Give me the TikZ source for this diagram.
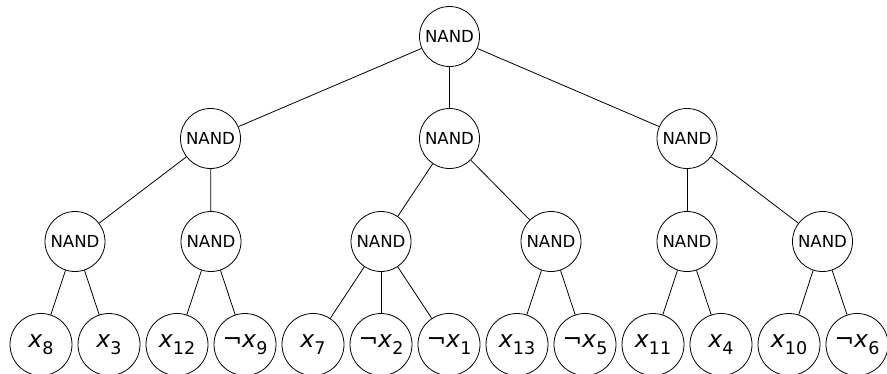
\documentclass[tikz,border=0pt]{standalone}
\usepackage{fontspec}
\setmainfont{DejaVu Sans}
\newcommand\litx[1]{{\itshape x}\kern0.2pt\raisebox{-6.5pt}{\fontsize{17.5pt}{17.5pt}\selectfont #1}}
\newcommand\nlitx[1]{¬\litx{#1}}
\tikzset{
  gate/.style={circle, draw, line width=0.8pt, minimum size=60pt, inner sep=0pt,
    font=\fontsize{16.6pt}{16.6pt}\selectfont},
  leaf/.style={circle, draw, line width=0.8pt, minimum size=62pt, inner sep=0pt,
    font=\fontsize{23.5pt}{23.5pt}\selectfont},
  edge/.style={line width=0.8pt}
}
\begin{document}
\begin{tikzpicture}[x=1pt,y=-1pt]
\useasboundingbox (0,0) rectangle (887,373);
% gates
\node[gate] (r)  at (449.5,36.5) {NAND};
\node[gate] (a)  at (210.5,138.5) {NAND};
\node[gate] (b)  at (449.5,138.5) {NAND};
\node[gate] (c)  at (687,138.5) {NAND};
\node[gate] (a1) at (75,241.5) {NAND};
\node[gate] (a2) at (211,241.5) {NAND};
\node[gate] (b1) at (381,241.5) {NAND};
\node[gate] (b2) at (551,241.5) {NAND};
\node[gate] (c1) at (687,241.5) {NAND};
\node[gate] (c2) at (822.5,241.5) {NAND};
% leaves
\node[leaf] (l0)  at (41,344.5)  {\litx{8}};
\node[leaf] (l1)  at (109,344.5) {\litx{3}};
\node[leaf] (l2)  at (177,344.5) {\litx{12}};
\node[leaf] (l3)  at (245,344.5) {\nlitx{9}};
\node[leaf] (l4)  at (313,344.5) {\litx{7}};
\node[leaf] (l5)  at (381,344.5) {\nlitx{2}};
\node[leaf] (l6)  at (449,344.5) {\nlitx{1}};
\node[leaf] (l7)  at (517,344.5) {\litx{13}};
\node[leaf] (l8)  at (585,344.5) {\nlitx{5}};
\node[leaf] (l9)  at (653,344.5) {\litx{11}};
\node[leaf] (l10) at (721,344.5) {\litx{4}};
\node[leaf] (l11) at (789,344.5) {\litx{10}};
\node[leaf] (l12) at (857,344.5) {\nlitx{6}};
% edges
\draw[edge] (r) -- (a);
\draw[edge] (r) -- (b);
\draw[edge] (r) -- (c);
\draw[edge] (a) -- (a1);
\draw[edge] (a) -- (a2);
\draw[edge] (b) -- (b1);
\draw[edge] (b) -- (b2);
\draw[edge] (c) -- (c1);
\draw[edge] (c) -- (c2);
\draw[edge] (a1) -- (l0);
\draw[edge] (a1) -- (l1);
\draw[edge] (a2) -- (l2);
\draw[edge] (a2) -- (l3);
\draw[edge] (b1) -- (l4);
\draw[edge] (b1) -- (l5);
\draw[edge] (b1) -- (l6);
\draw[edge] (b2) -- (l7);
\draw[edge] (b2) -- (l8);
\draw[edge] (c1) -- (l9);
\draw[edge] (c1) -- (l10);
\draw[edge] (c2) -- (l11);
\draw[edge] (c2) -- (l12);
\end{tikzpicture}
\end{document}
